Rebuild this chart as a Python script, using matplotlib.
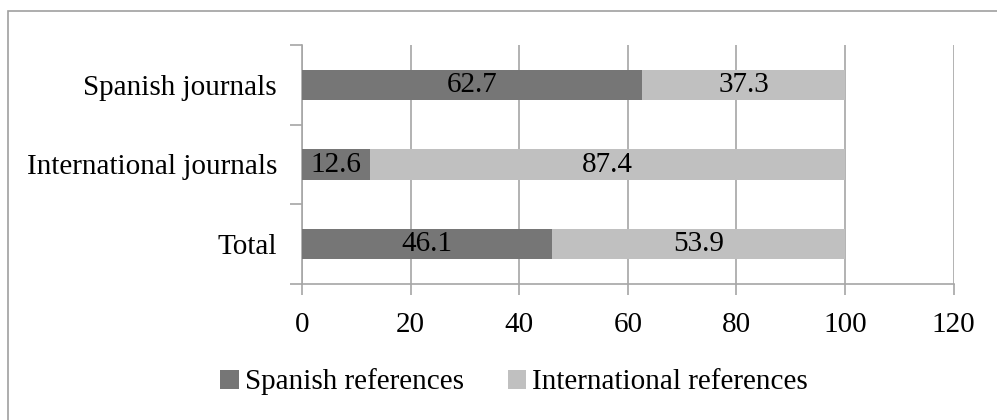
import matplotlib
matplotlib.use('Agg')
import matplotlib.pyplot as plt
from matplotlib.patches import Rectangle

plt.rcParams['font.family'] = 'Liberation Serif'

categories = ['Spanish journals', 'International journals', 'Total']
spanish_refs = [62.7, 12.6, 46.1]
international_refs = [37.3, 87.4, 53.9]
series_names = ['Spanish references', 'International references']
colors = ['#767676', '#c0c0c0']
xticks = [0, 20, 40, 60, 80, 100, 120]

fs = 21
grid_col = '#a6a6a6'

fig = plt.figure(figsize=(9.97, 4.2), dpi=100)
ax = fig.add_axes([302/997, 1 - 284/420, (953.6 - 302)/997, (284 - 45)/420])

# chart border
fig.patches.append(Rectangle((8/997, -0.1), 1.1, 1 - 11/420 + 0.1,
                             transform=fig.transFigure, fill=False,
                             edgecolor='#a0a0a0', linewidth=1.2))

ypos = [2, 1, 0]
h = 0.38
b1 = ax.barh(ypos, spanish_refs, height=h, color=colors[0], label=series_names[0], zorder=3)
b2 = ax.barh(ypos, international_refs, left=spanish_refs, height=h, color=colors[1],
             label=series_names[1], zorder=3)
for bars, vals in ((b1, spanish_refs), (b2, international_refs)):
    ax.bar_label(bars, labels=[f'{v:.1f}' for v in vals], label_type='center',
                 fontsize=fs, color='black')

ax.set_xlim(0, 120)
ax.set_ylim(-0.5, 2.5)
ax.set_xticks(xticks)
ax.set_xticklabels([str(t) for t in xticks], fontsize=fs)
ax.set_yticks(ypos)
ax.set_yticklabels(categories, fontsize=fs)
ax.tick_params(axis='y', length=0, pad=18)
ax.set_yticks([-0.5, 0.5, 1.5, 2.5], minor=True)
ax.tick_params(axis='y', which='minor', length=9, color=grid_col, width=1.2)
ax.tick_params(axis='x', length=8, color=grid_col, width=1.2, pad=12)

ax.grid(axis='x', color=grid_col, linewidth=1.2, zorder=0)
for s in ['top', 'right']:
    ax.spines[s].set_visible(False)
for s in ['left', 'bottom']:
    ax.spines[s].set_color(grid_col)
    ax.spines[s].set_linewidth(1.2)

fig.legend(loc='center', bbox_to_anchor=(514/997, 1 - 382/420), ncol=2, frameon=False,
           fontsize=fs, handlelength=0.65, handleheight=0.65, handletextpad=0.2,
           columnspacing=1.5)

fig.savefig('out.png', dpi=100)
